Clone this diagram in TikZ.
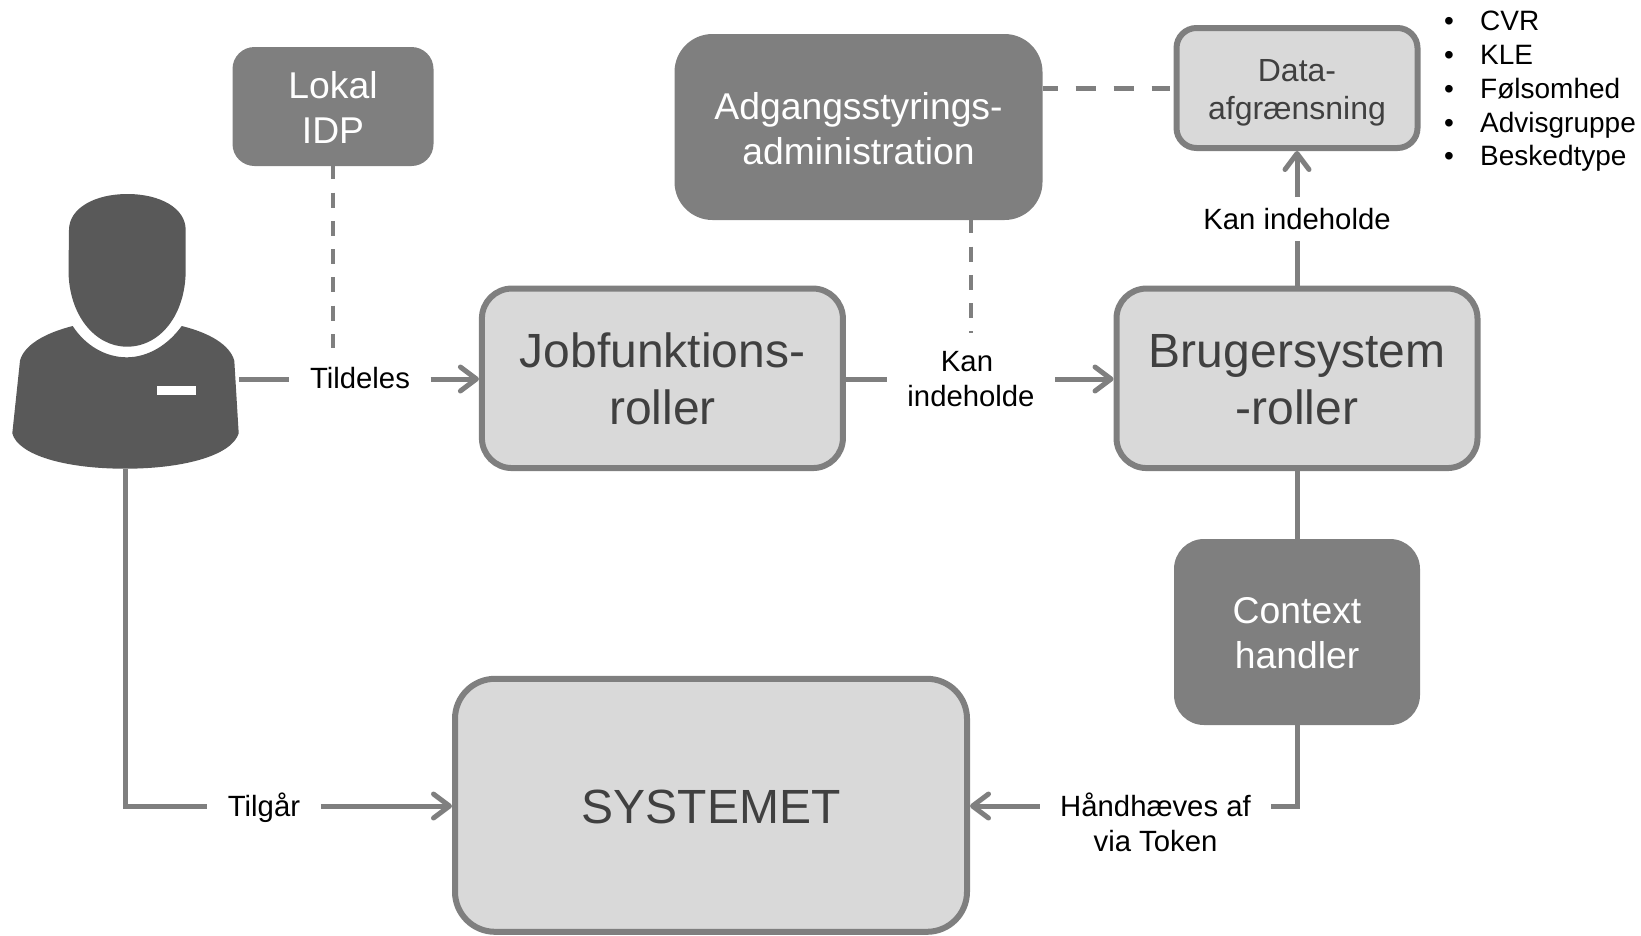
\documentclass[tikz,border=0pt]{standalone}
\usepackage{fontspec}
\setmainfont{Liberation Sans}
\usetikzlibrary{arrows.meta}
\definecolor{lightbox}{HTML}{D9D9D9}
\definecolor{midgrey}{HTML}{7F7F7F}
\definecolor{darkgrey}{HTML}{595959}
\definecolor{boxtext}{HTML}{404040}
\tikzset{
  lbox/.style={draw=midgrey,line width=6pt,fill=lightbox,text=boxtext,align=center,inner sep=0pt},
  dbox/.style={fill=midgrey,text=white,align=center,inner sep=0pt},
  lab/.style={align=center,inner xsep=20.5pt,inner ysep=2pt,text=black,font=\fontsize{29.3}{35}\selectfont},
  conn/.style={draw=midgrey,line width=5pt},
  arr/.style={conn,-{Straight Barb[length=16pt,width=24pt,round]}},
  dash1/.style={draw=midgrey,line width=4pt,dash pattern=on 15pt off 13.3pt,dash phase=2pt},
  dash2/.style={draw=midgrey,line width=5pt,dash pattern=on 20pt off 18pt,dash phase=5pt},
  huge48/.style={font=\fontsize{48}{56.5}\selectfont},
  mid37/.style={font=\fontsize{37.3}{45}\selectfont},
}
\begin{document}
\begin{tikzpicture}[x=1pt,y=-1pt]
\useasboundingbox (0,0) rectangle (1641,935);
% person
\fill[darkgrey] (127.3,194) .. controls (95,194) and (69,208) .. (69,230)
  -- (68.5,270) .. controls (68.5,315) and (95,346.7) .. (127,346.7)
  .. controls (160,346.7) and (185.7,315) .. (185.7,270)
  -- (185.7,230) .. controls (185.7,208) and (160,194) .. (127.3,194) -- cycle;
\fill[darkgrey] (72.7,326) .. controls (85,345) and (105,357.3) .. (126.7,357.3)
  .. controls (148,357.3) and (168,345) .. (181.7,326)
  .. controls (210,333) and (230,345) .. (234.3,360.7)
  -- (238.7,433.3) .. controls (232,455) and (185,468.7) .. (125,468.7)
  .. controls (65,468.7) and (18,455) .. (12.3,433.3)
  -- (20,360.7) .. controls (24,345) and (45,333) .. (72.7,326) -- cycle;
\fill[white] (157,386) rectangle (195.7,394.7);
\node[minimum width=227pt,minimum height=275pt,inner sep=0pt,outer sep=0pt] (person) at (125.5,331.5) {};
% boxes
\node[dbox,rounded corners=22pt,minimum width=201pt,minimum height=119pt,mid37] (idp) at (333,106.5) {\rule{0pt}{28.5pt}Lokal\\IDP};
\node[dbox,rounded corners=38pt,minimum width=368pt,minimum height=186pt,mid37] (adm) at (858.5,127) {\rule{0pt}{29.5pt}Adgangsstyrings-\\administration};
\node[lbox,rounded corners=20pt,minimum width=241pt,minimum height=120pt,font=\fontsize{32}{37.5}\selectfont] (data) at (1297,88) {\rule{0pt}{32pt}Data-\\afgrænsning};
\node[lbox,rounded corners=30pt,minimum width=361pt,minimum height=179.5pt,huge48] (job) at (662.4,378.3) {\rule{0pt}{35.5pt}Jobfunktions-\\roller};
\node[lbox,rounded corners=30pt,minimum width=361pt,minimum height=179.5pt,huge48] (bruger) at (1297,378.3) {\rule{0pt}{35.5pt}Brugersystem\\-roller};
\node[dbox,rounded corners=30pt,minimum width=246pt,minimum height=186pt,mid37] (ctx) at (1297,632) {\rule{0pt}{29pt}Context\\handler};
\node[lbox,rounded corners=40pt,minimum width=512pt,minimum height=253pt,huge48] (sys) at (711,805.3) {\rule{0pt}{37pt}SYSTEMET};
% labels
\node[lab] (tildeles) at (360,378) {Tildeles};
\node[lab] (kan1) at (971,379.5) {Kan\rule{8pt}{0pt}\\indeholde};
\node[lab,inner xsep=0pt,inner ysep=11pt] (kan2) at (1297,219) {Kan indeholde};
\node[lab] (tilgaar) at (264,808) {Tilgår};
\node[lab] (haand) at (1155.5,822.5) {Håndhæves af\\via Token};
\node[inner sep=0pt,align=left,anchor=north west,text=black,font=\fontsize{28}{33.8}\selectfont] (list) at (1444,11)
  {\makebox[36pt][l]{•}CVR\\\makebox[36pt][l]{•}KLE\\\makebox[36pt][l]{•}Følsomhed\\\makebox[36pt][l]{•}Advisgruppe\\\makebox[36pt][l]{•}Beskedtype};
\coordinate (kan1mid) at (971,333);
\coordinate (idpend) at (333,348);
\coordinate (dashend) at (1170,88);
\coordinate (rowA) at (0,379);
\coordinate (rowB) at (0,806);
\coordinate (turnL) at (125.5,806);
\coordinate (turnR) at (1297,806);
% connectors
\draw[dash1] (idp.south) -- (idpend);
\draw[dash1] (adm.south -| kan1mid) -- (kan1mid);
\draw[dash2] (adm.east |- dashend) -- (dashend);
\draw[conn] (person.east |- rowA) -- (tildeles.west |- rowA);
\draw[arr] (tildeles.east |- rowA) -- (job.west |- rowA);
\draw[conn] (job.east |- rowA) -- (kan1.west |- rowA);
\draw[arr] (kan1.east |- rowA) -- (bruger.west |- rowA);
\draw[conn] (bruger.north) -- (kan2.south);
\draw[arr] (kan2.north) -- (data.south);
\draw[conn] (bruger.south) -- (ctx.north);
\draw[conn,line join=miter] (person.south) -- (turnL) -- (tilgaar.west |- rowB);
\draw[arr] (tilgaar.east |- rowB) -- (sys.west |- rowB);
\draw[conn] (ctx.south) -- (turnR) -- (turnR -| haand.east);
\draw[arr] (haand.west |- rowB) -- (sys.east |- rowB);
\end{tikzpicture}
\end{document}
